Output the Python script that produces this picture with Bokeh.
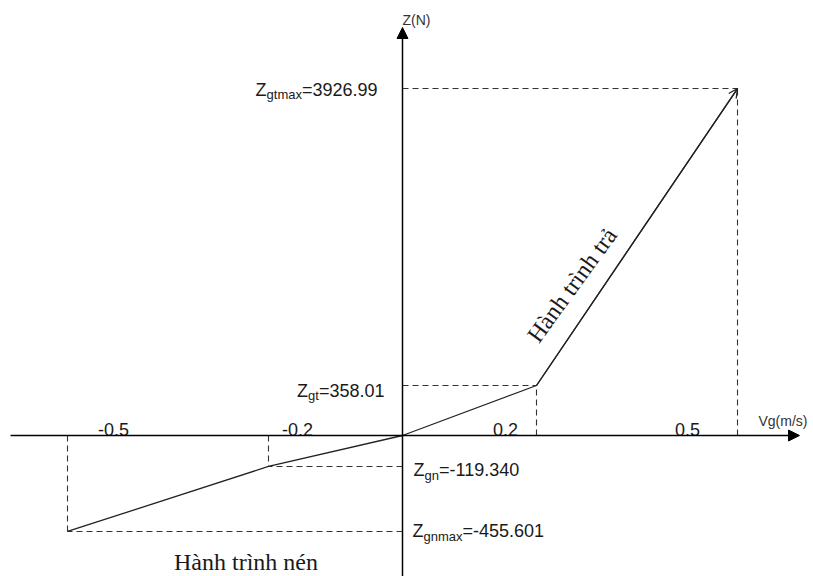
import numpy as np
from bokeh.plotting import figure
from bokeh.models import Range1d, Arrow, NormalHead, OpenHead
from bokeh.core.properties import value
from bokeh.embed import file_html
from bokeh.resources import INLINE

# ---------------- data ----------------
vg = [-0.5, -0.2, 0.0, 0.2, 0.5]                      # Vg (m/s)
z = [-455.601, -119.340, 0.0, 358.01, 3926.99]         # Z (N)
tick_vals = [-0.5, -0.2, 0.2, 0.5]
tick_labels = ["-0.5", "-0.2", "0.2", "0.5"]
label_vg = [0.5, 0.2, -0.2, -0.5]
label_z = [3926.99, 358.01, -119.340, -455.601]
label_sub = ["gtmax", "gt", "gn", "gnmax"]
label_val = ["=3926.99", "=358.01", "=-119.340", "=-455.601"]
x_title = "Vg(m/s)"
y_title = "Z(N)"
text_tra = "Hành trình trả"
text_nen = "Hành trình nén"


# schematic (not-to-scale) vertical scale used by the original sketch
def schem(v):
    v = np.asarray(v, dtype=float)
    pos = 0.4296 * np.abs(v) ** 0.8089
    neg = -0.548 * np.abs(v) ** 0.8438
    return np.where(v >= 0, pos, neg)


# Arial/Liberation Sans advance widths (em)
W = {"0": .556, "1": .556, "2": .556, "3": .556, "4": .556, "5": .556, "6": .556,
     "7": .556, "8": .556, "9": .556, ".": .278, "=": .584, "-": .333, "g": .556,
     "t": .278, "m": .833, "a": .556, "x": .5, "n": .556, "Z": .611}


def tw(s, size):
    return sum(W.get(c, 0.556) for c in s) * size


MAIN = 18
SUB = 13
FONT = value("Liberation Sans")
SERIF = value("Liberation Serif")
INK = "#1a1a1a"

XL, XR = -0.6, 0.61343
YB, YT = -141, 435

p = figure(width=813, height=576, output_backend="svg", toolbar_location=None,
           x_range=Range1d(XL, XR), y_range=Range1d(YB, YT),
           min_border=0, outline_line_color=None)
p.axis.visible = False
p.grid.visible = False

s = schem(z)

# dashed guide lines
hx0, hx1, hy, vx, vy0, vy1 = [], [], [], [], [], []
for xv, sv in zip(vg, s):
    if xv == 0:
        continue
    hx0.append(0.0); hx1.append(xv); hy.append(sv)
    vx.append(xv); vy0.append(0.0); vy1.append(sv)
p.segment(x0=hx0, y0=hy, x1=hx1, y1=hy, line_color="#333333", line_width=1.1,
          line_dash="6 4")
p.segment(x0=vx, y0=vy0, x1=vx, y1=vy1, line_color="#333333", line_width=1.1,
          line_dash="6 4")

# axes with arrows
p.add_layout(Arrow(x_start=XL + 0.015, y_start=0, x_end=0.5925, y_end=0,
                   line_color="black", line_width=1.5,
                   end=NormalHead(size=11, fill_color="black", line_color="black")))
p.add_layout(Arrow(x_start=0, y_start=YB, x_end=0, y_end=408,
                   line_color="black", line_width=1.5,
                   end=NormalHead(size=11, fill_color="black", line_color="black")))

# characteristic curve
p.line(vg, s, line_color="#222222", line_width=1.3)
p.add_layout(Arrow(x_start=vg[-2], y_start=float(s[-2]), x_end=vg[-1], y_end=float(s[-1]),
                   line_color="#222222", line_width=1.3,
                   end=OpenHead(size=9, line_color="#222222", line_width=1.3)))

# tick labels (placed beside ticks as in the sketch)
tick_dx = [46, 29, -31, -50]
p.text(x=tick_vals, y=[0] * 4, text=tick_labels, x_offset=tick_dx, y_offset=[-6] * 4,
       text_align="center", text_baseline="alphabetic", text_font=FONT,
       text_font_size=f"{MAIN}px", text_color=INK)

# axis titles
p.text(x=[0.5925], y=[0], text=[x_title], x_offset=[-41], y_offset=[-15],
       text_align="left", text_baseline="alphabetic", text_font=FONT,
       text_font_size="14px", text_color="#333333")
p.text(x=[0], y=[408], text=[y_title], x_offset=[0], y_offset=[-8],
       text_align="left", text_baseline="alphabetic", text_font=FONT,
       text_font_size="14px", text_color="#333333")

# Z labels with subscripts
ls = schem(label_z)
edge = [-25, -18, 11, 10]        # right end (pos) / left start (neg), px from axis
base = [1, 5, 4, 0]              # baseline offset from the level, px
zx, zy, zdx, zdy = [], [], [], []
sx, sy, sdx, sdy = [], [], [], []
vx_, vy_, vdx, vdy = [], [], [], []
for i in range(4):
    wz = tw("Z", MAIN)
    wsb = tw(label_sub[i], SUB)
    wv = tw(label_val[i], MAIN)
    start = edge[i] - (wz + wsb + wv) if label_z[i] > 0 else edge[i]
    zx.append(0); zy.append(ls[i]); zdx.append(start); zdy.append(base[i])
    sx.append(0); sy.append(ls[i]); sdx.append(start + wz); sdy.append(base[i] + 5)
    vx_.append(0); vy_.append(ls[i]); vdx.append(start + wz + wsb); vdy.append(base[i])
p.text(x=zx, y=zy, text=["Z"] * 4, x_offset=zdx, y_offset=zdy, text_align="left",
       text_baseline="alphabetic", text_font=FONT, text_font_size=f"{MAIN}px",
       text_color=INK)
p.text(x=sx, y=sy, text=label_sub, x_offset=sdx, y_offset=sdy, text_align="left",
       text_baseline="alphabetic", text_font=FONT, text_font_size=f"{SUB}px",
       text_color=INK)
p.text(x=vx_, y=vy_, text=label_val, x_offset=vdx, y_offset=vdy, text_align="left",
       text_baseline="alphabetic", text_font=FONT, text_font_size=f"{MAIN}px",
       text_color=INK)

# branch names
mx_t = (vg[3] + vg[4]) / 2
my_t = float((s[3] + s[4]) / 2)
p.text(x=[mx_t], y=[my_t], text=[text_tra], x_offset=[-65], y_offset=[48],
       angle=54, angle_units="deg", text_align="center", text_baseline="middle",
       text_font=SERIF, text_font_size="24px", text_color=INK)
mx_n = (vg[0] + vg[1]) / 2
my_n = float((s[0] + s[1]) / 2)
p.text(x=[mx_n], y=[my_n], text=[text_nen], x_offset=[78], y_offset=[63],
       text_align="center", text_baseline="alphabetic",
       text_font=SERIF, text_font_size="24px", text_color=INK)

open("out.html", "w").write(file_html(p, INLINE))
